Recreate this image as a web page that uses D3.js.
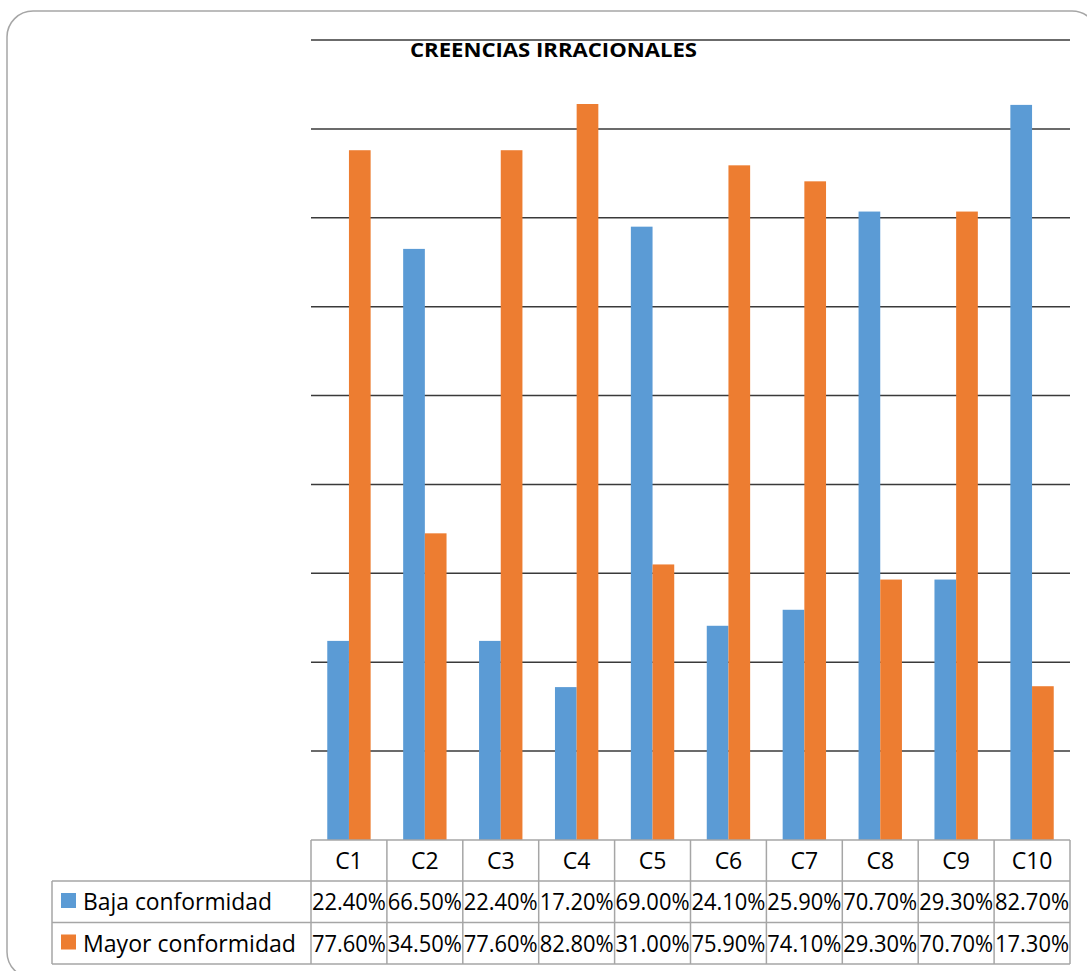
<!DOCTYPE html>
<html>
<head>
<meta charset="utf-8">
<script src="https://cdn.jsdelivr.net/npm/d3@7"></script>
<style>
  html, body { margin: 0; padding: 0; background: #fff; }
  svg { display: block; }
</style>
</head>
<body>
<svg id="chart" width="1087" height="971"></svg>
<script>
// Chart data
const title = "CREENCIAS IRRACIONALES";
const categories = ["C1", "C2", "C3", "C4", "C5", "C6", "C7", "C8", "C9", "C10"];
const seriesNames = ["Baja conformidad", "Mayor conformidad"];
const bajaValues = [0.224, 0.665, 0.224, 0.172, 0.690, 0.241, 0.259, 0.707, 0.293, 0.827];
const mayorValues = [0.776, 0.345, 0.776, 0.828, 0.310, 0.759, 0.741, 0.293, 0.707, 0.173];
const gridTicks = [0.1, 0.2, 0.3, 0.4, 0.5, 0.6, 0.7, 0.8, 0.9];
const colors = ["#5B9BD5", "#ED7D31"];

const seriesValues = [bajaValues, mayorValues];
const fmt = d3.format(".2%");

const svg = d3.select("#chart");
const font = "'Open Sans', 'Noto Sans', sans-serif";

// Outer rounded frame
svg.append("rect")
  .attr("x", 7).attr("y", 11)
  .attr("width", 1091).attr("height", 967)
  .attr("rx", 26).attr("ry", 26)
  .attr("fill", "none")
  .attr("stroke", "#a6a6a6")
  .attr("stroke-width", 1.5);

// Plot geometry
const plotLeft = 311, plotRight = 1070, plotTop = 40, plotBottom = 840;
const tableLeft = 52;
const headerH = 41, rowH = 41.5;

const x = d3.scaleBand().domain(categories).range([plotLeft, plotRight]).padding(0);
const xs = d3.scaleBand().domain(seriesNames).range([0, x.bandwidth()])
  .paddingInner(0).paddingOuter(0.75);
const y = d3.scaleLinear().domain([0, 0.9]).range([plotBottom, plotTop]);

// Horizontal gridlines
svg.append("g")
  .selectAll("line")
  .data(gridTicks)
  .join("line")
  .attr("x1", plotLeft).attr("x2", plotRight)
  .attr("y1", d => y(d)).attr("y2", d => y(d))
  .attr("stroke", "#3a3a3a")
  .attr("stroke-width", 1.5);

// Bars
const groups = svg.append("g")
  .selectAll("g")
  .data(categories)
  .join("g")
  .attr("transform", d => `translate(${x(d)},0)`);

groups.selectAll("rect")
  .data((c, i) => seriesNames.map((s, k) => ({ s, k, v: seriesValues[k][i] })))
  .join("rect")
  .attr("x", d => xs(d.s))
  .attr("width", xs.bandwidth())
  .attr("y", d => y(d.v))
  .attr("height", d => y(0) - y(d.v))
  .attr("fill", d => colors[d.k]);

// Title
svg.append("text")
  .attr("x", 410).attr("y", 57)
  .attr("font-family", font)
  .attr("font-weight", "bold")
  .attr("font-size", 20)
  .attr("textLength", 287)
  .attr("lengthAdjust", "spacingAndGlyphs")
  .attr("fill", "#000")
  .text(title);

// Data table
const table = svg.append("g");
const borderColor = "#a6a6a6";
const rowTop = [plotBottom + headerH, plotBottom + headerH + rowH];
const tableBottom = plotBottom + headerH + 2 * rowH;

// Horizontal table lines
table.append("line")
  .attr("x1", plotLeft).attr("x2", plotRight)
  .attr("y1", plotBottom).attr("y2", plotBottom)
  .attr("stroke", borderColor).attr("stroke-width", 1.5);
[rowTop[0], rowTop[1], tableBottom].forEach(yy => {
  table.append("line")
    .attr("x1", tableLeft).attr("x2", plotRight)
    .attr("y1", yy).attr("y2", yy)
    .attr("stroke", borderColor).attr("stroke-width", 1.5);
});

// Vertical table lines
const colEdges = categories.map(c => x(c)).concat([plotRight]);
table.selectAll("line.v")
  .data(colEdges)
  .join("line")
  .attr("class", "v")
  .attr("x1", d => d).attr("x2", d => d)
  .attr("y1", plotBottom).attr("y2", tableBottom)
  .attr("stroke", borderColor).attr("stroke-width", 1.5);
table.append("line")
  .attr("x1", tableLeft).attr("x2", tableLeft)
  .attr("y1", rowTop[0]).attr("y2", tableBottom)
  .attr("stroke", borderColor).attr("stroke-width", 1.5);

// Category headers
table.selectAll("text.cat")
  .data(categories)
  .join("text")
  .attr("class", "cat")
  .attr("x", d => x(d) + x.bandwidth() / 2)
  .attr("y", plotBottom + 29)
  .attr("text-anchor", "middle")
  .attr("font-family", font)
  .attr("font-size", 23)
  .attr("fill", "#000")
  .text(d => d);

// Legend keys and series names
seriesNames.forEach((s, k) => {
  const top = rowTop[k];
  table.append("rect")
    .attr("x", 61).attr("y", top + 12)
    .attr("width", 15).attr("height", 15)
    .attr("fill", colors[k]);
  table.append("text")
    .attr("x", 83).attr("y", top + 29)
    .attr("font-family", font)
    .attr("font-size", 23)
    .attr("textLength", k === 0 ? 189 : 213)
    .attr("lengthAdjust", "spacingAndGlyphs")
    .attr("fill", "#000")
    .text(s);

  table.selectAll(`text.val${k}`)
    .data(seriesValues[k])
    .join("text")
    .attr("class", `val${k}`)
    .attr("x", (d, i) => x(categories[i]) + x.bandwidth() / 2)
    .attr("y", top + 29)
    .attr("text-anchor", "middle")
    .attr("font-family", font)
    .attr("font-size", 23)
    .attr("textLength", 74)
    .attr("lengthAdjust", "spacingAndGlyphs")
    .attr("fill", "#000")
    .text(d => fmt(d));
});
</script>
</body>
</html>
